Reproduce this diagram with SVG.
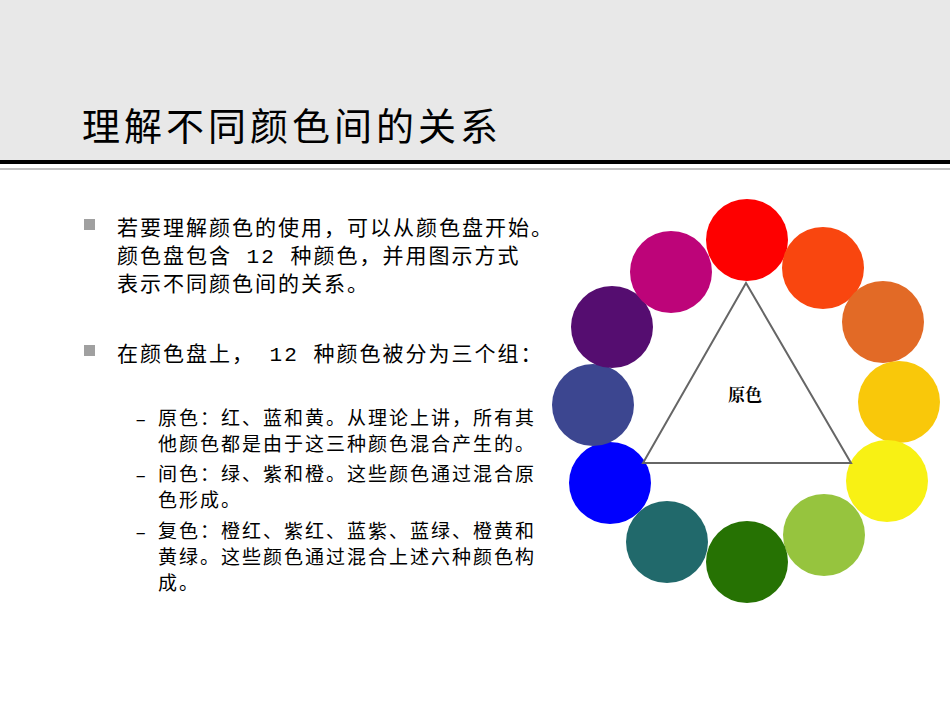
<svg xmlns="http://www.w3.org/2000/svg" width="950" height="713" viewBox="0 0 950 713">
<style>
.t{font-family:"Liberation Mono","Noto Sans CJK SC",monospace;fill:#000}
.b{font-size:21px;letter-spacing:2px}.s{font-size:19px;letter-spacing:2px}
</style>
<rect width="950" height="713" fill="#fff"/>
<g id="header">
<rect width="950" height="160" fill="#e8e8e8"/>
<rect y="160" width="950" height="4" fill="#000"/>
<rect y="168" width="950" height="2" fill="#c0c0c0"/>
<text x="82" y="140" class="t" style="font-family:'Noto Sans CJK SC',sans-serif;font-size:38px;letter-spacing:4px">理解不同颜色间的关系</text>
</g>
<g id="body">
<rect x="84" y="219" width="11" height="11" fill="#a0a0a0"/>
<rect x="84" y="345" width="11" height="11" fill="#a0a0a0"/>
<text class="t b" x="117" y="235">若要理解颜色的使用，可以从颜色盘开始。</text>
<text class="t b" x="117" y="263">颜色盘包含 12 种颜色，并用图示方式</text>
<text class="t b" x="117" y="291">表示不同颜色间的关系。</text>
<text class="t b" x="117" y="361">在颜色盘上， 12 种颜色被分为三个组：</text>
<text class="t s" x="135" y="425" fill="#999">–</text><text class="t s" x="135" y="481" fill="#999">–</text><text class="t s" x="135" y="538" fill="#999">–</text>
<text class="t s" x="158" y="425">原色：红、蓝和黄。从理论上讲，所有其</text>
<text class="t s" x="158" y="451">他颜色都是由于这三种颜色混合产生的。</text>
<text class="t s" x="158" y="481">间色：绿、紫和橙。这些颜色通过混合原</text>
<text class="t s" x="158" y="507">色形成。</text>
<text class="t s" x="158" y="538">复色：橙红、紫红、蓝紫、蓝绿、橙黄和</text>
<text class="t s" x="158" y="564">黄绿。这些颜色通过混合上述六种颜色构</text>
<text class="t s" x="158" y="590">成。</text>
</g>
<g id="wheel">
<circle cx="747" cy="240" r="41" fill="#fe0000"/>
<circle cx="823" cy="268" r="41" fill="#f9460f"/>
<circle cx="883" cy="322" r="41" fill="#e26a26"/>
<circle cx="899" cy="402" r="41" fill="#f9c80a"/>
<circle cx="887" cy="481" r="41" fill="#f8f114"/>
<circle cx="824" cy="535" r="41" fill="#96c43e"/>
<circle cx="747" cy="562" r="41" fill="#267203"/>
<circle cx="667" cy="542" r="41" fill="#21696b"/>
<circle cx="610" cy="483" r="41" fill="#0000fe"/>
<circle cx="593" cy="405" r="41" fill="#3c4690"/>
<circle cx="612" cy="327" r="41" fill="#550d70"/>
<circle cx="671" cy="272" r="41" fill="#bd0479"/>
</g>
<g id="connectors">
<polygon points="746,283 643,463 851,463" fill="none" stroke="#666" stroke-width="2"/>
</g>
<g id="label"><text x="745" y="401" text-anchor="middle" style="font-family:'Noto Serif CJK SC','Noto Sans CJK SC',serif;font-size:17px;font-weight:bold">原色</text></g>
</svg>
